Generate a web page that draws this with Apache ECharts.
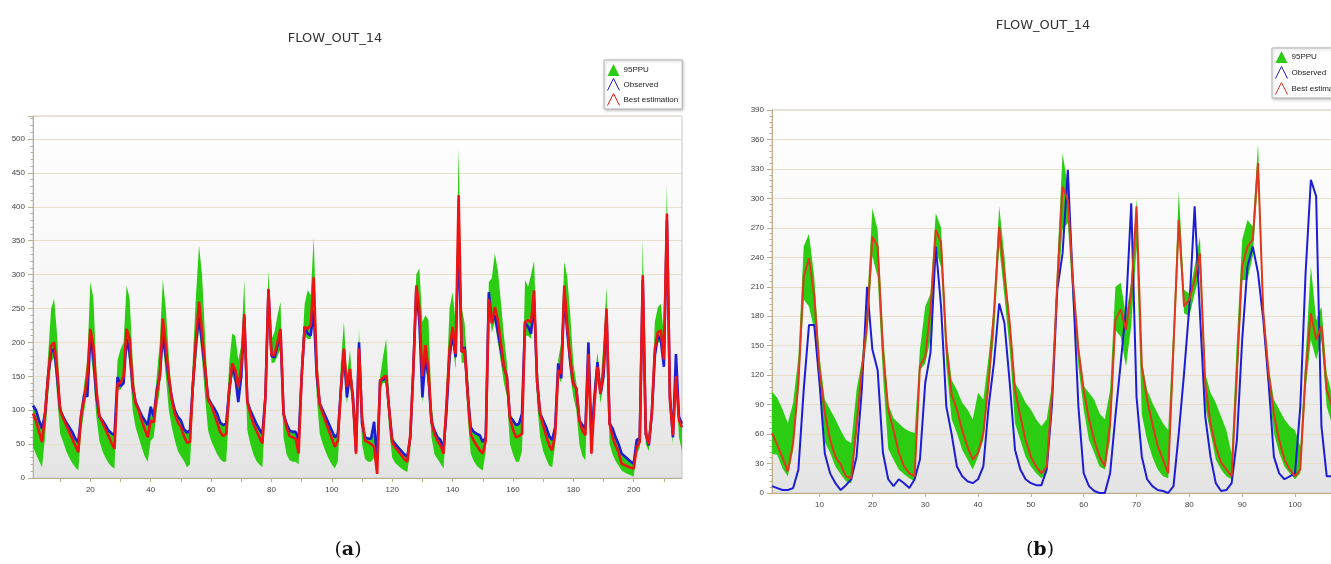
<!DOCTYPE html>
<html>
<head>
<meta charset="utf-8">
<script src="https://cdn.jsdelivr.net/npm/echarts@6/dist/echarts.min.js"></script>
<style>
  html, body { margin: 0; padding: 0; background: #ffffff; }
  #chart { width: 1331px; height: 564px; }
</style>
</head>
<body>
<div id="chart"></div>
<script>
// ---- Panel (a): FLOW_OUT_14, 216 time steps ----
const obsA = [
  107,100,85,73,95,150,185,191,150,100,
  90,82,75,68,58,53,95,124,120,208,
  180,120,90,85,78,70,66,63,149,135,
  140,205,185,135,112,102,92,85,78,105,
  90,130,150,210,180,145,118,100,90,85,
  72,67,70,140,200,237,200,160,118,110,
  103,95,82,78,80,130,164,150,112,150,
  237,112,100,90,80,72,65,120,277,180,
  178,195,213,95,80,70,68,68,56,150,
  223,213,210,247,150,110,100,90,80,70,
  60,65,130,188,119,155,120,40,200,80,
  60,58,58,83,26,144,145,149,100,56,
  50,45,40,35,31,60,160,282,230,119,
  178,150,83,70,60,56,43,100,180,213,
  178,360,186,193,124,75,68,65,63,53,
  60,274,230,240,215,190,164,149,90,85,
  78,80,95,230,223,213,260,142,95,85,
  75,62,56,75,169,147,272,215,170,139,
  132,85,78,73,200,60,120,171,124,150,
  242,80,73,60,50,36,32,28,24,21,
  56,58,292,65,48,95,180,210,203,164,
  380,120,60,183,90,80
];
const bestA = [
  95,85,68,53,95,150,195,200,160,100,
  88,78,68,58,48,38,95,118,150,220,
  195,130,92,82,72,62,52,43,139,140,
  150,220,205,140,110,100,85,72,60,85,
  82,125,150,235,195,150,115,95,82,75,
  62,52,53,140,205,260,215,165,115,108,
  95,82,68,62,65,130,169,160,134,164,
  242,112,95,80,70,60,51,120,279,181,
  182,200,220,95,75,62,60,58,36,150,
  223,220,225,296,160,108,95,82,70,58,
  46,55,130,191,134,161,115,36,191,90,
  55,53,50,46,6,144,148,151,100,53,
  45,40,34,28,24,65,160,284,250,150,
  196,160,83,65,55,48,36,110,190,223,
  183,417,186,190,124,65,55,48,41,36,
  55,264,228,252,233,200,164,149,88,72,
  60,62,65,230,233,230,277,142,95,78,
  62,48,41,65,159,154,284,223,175,139,
  132,85,70,63,183,36,110,164,124,160,
  250,80,60,48,38,21,19,17,15,14,
  45,53,299,65,50,95,190,215,218,175,
  390,115,63,150,85,75
];
const lowA = [
  46,35,25,16,60,120,170,178,120,65,
  53,40,30,22,16,11,70,100,130,190,
  150,90,55,40,30,22,17,14,130,130,
  140,195,170,100,75,60,45,32,24,55,
  60,100,130,200,150,100,75,55,40,32,
  25,16,20,110,170,220,175,120,70,55,
  45,35,28,24,24,100,150,140,110,150,
  200,70,50,35,25,20,16,100,250,170,
  170,180,190,60,35,26,24,24,20,130,
  210,205,205,240,120,65,50,38,28,20,
  14,25,110,160,110,140,90,30,170,50,
  28,24,24,30,5,130,140,140,70,30,
  22,18,14,11,9,40,150,260,220,110,
  170,130,60,35,28,21,14,80,160,200,
  160,340,170,170,90,36,25,18,14,11,
  40,250,215,230,200,170,140,120,50,35,
  24,24,40,210,210,205,250,110,60,40,
  28,18,16,50,150,140,260,200,150,120,
  100,50,32,26,170,30,100,150,110,140,
  230,50,35,25,18,11,8,6,4,2,
  35,45,280,50,40,80,175,200,200,160,
  370,100,50,140,60,40
];
const upA = [
  108,100,88,76,110,180,250,264,210,110,
  95,85,78,70,60,55,100,140,175,289,
  265,160,95,87,80,72,68,65,174,190,
  200,284,265,175,115,105,95,88,80,107,
  95,150,200,292,250,180,120,102,93,87,
  75,70,72,180,270,343,300,210,125,112,
  105,97,85,80,82,170,213,210,174,196,
  292,120,103,92,82,75,67,150,306,205,
  215,240,260,100,83,72,70,70,60,180,
  257,277,270,355,200,112,102,92,82,72,
  62,70,170,230,149,188,130,45,220,95,
  62,60,60,85,30,150,180,205,120,60,
  53,48,42,37,33,70,200,301,309,230,
  240,233,110,72,62,58,46,140,250,274,
  230,486,252,228,160,78,70,67,65,55,
  65,289,295,331,306,260,210,170,95,88,
  80,82,100,292,282,300,321,180,100,88,
  78,65,58,80,175,200,319,296,240,170,
  140,90,80,75,205,62,140,186,140,200,
  282,90,75,62,52,38,34,30,26,23,
  58,62,353,90,55,110,230,252,257,210,
  432,160,70,185,95,82
];

// ---- Panel (b): FLOW_OUT_14, 107 time steps ----
const obsB = [
  7,5,3,3,5,24,105,171,171,112,
  40,20,10,3,8,14,37,105,210,146,
  125,41,14,7,14,10,5,14,34,112,
  143,251,190,88,60,27,17,12,10,14,
  27,88,132,193,173,112,44,24,14,10,
  8,8,24,90,207,244,329,207,88,20,
  7,2,0,0,20,78,132,187,295,98,
  37,14,7,3,2,0,7,61,122,190,
  292,183,78,37,10,2,3,10,54,156,
  231,251,224,176,112,37,20,14,17,20,
  88,224,319,302,68,17,17
];
const bestB = [
  61,49,36,22,51,112,220,239,200,125,
  82,54,37,29,17,15,68,125,173,261,
  251,145,85,64,41,27,20,17,129,139,
  187,268,255,150,100,85,64,47,34,41,
  61,112,183,271,220,173,105,78,54,37,
  27,20,27,100,214,312,298,214,146,105,
  75,54,37,27,71,176,187,166,205,292,
  129,95,70,48,34,20,150,278,190,197,
  217,244,112,71,47,31,24,17,122,231,
  251,258,336,183,122,81,54,34,24,17,
  24,122,183,156,170,105,88
];
const lowB = [
  40,39,25,17,44,105,197,190,166,105,
  52,41,27,19,12,10,58,115,159,241,
  220,120,45,34,24,19,15,12,125,132,
  156,248,230,130,75,61,44,34,24,37,
  54,105,159,251,200,146,71,54,37,27,
  20,15,20,85,200,268,275,190,129,85,
  54,41,27,24,54,166,159,129,170,250,
  80,54,37,24,17,15,130,261,183,180,
  203,224,88,61,34,24,17,14,105,217,
  217,241,319,170,105,61,41,27,20,14,
  20,105,156,136,156,88,70
];
const upB = [
  103,97,85,71,92,139,251,264,220,139,
  95,85,75,64,54,51,105,135,193,290,
  268,165,90,76,71,66,63,61,146,190,
  203,285,270,160,115,105,92,85,75,102,
  95,139,190,292,241,176,112,103,92,85,
  75,68,75,110,234,346,312,220,153,109,
  102,95,81,75,105,210,214,180,215,300,
  135,105,92,81,71,64,170,307,207,203,
  231,261,122,102,92,78,64,40,156,258,
  278,271,356,193,129,95,85,75,68,64,
  47,139,231,176,190,122,100
];

// Axis ticks and labels
const yTicksA = [0, 50, 100, 150, 200, 250, 300, 350, 400, 450, 500];
const xLabelStepA = 20, xTickStepA = 10;
const yTicksB = [0, 30, 60, 90, 120, 150, 180, 210, 240, 270, 300, 330, 360, 390];
const xLabelStepB = 10, xTickStepB = 10;

const panelTitle = 'FLOW_OUT_14';
const legendNames = ['95PPU', 'Observed', 'Best estimation'];

// Colours
const GREEN = '#2bcc12';
const BLUE = '#1d1dd4';
const RED_A = '#ee1414';
const RED_B = '#e0381e';
const AXIS = '#bfae8c';
const SPLIT = '#e8dfcb';
const LABEL = '#444444';

// Time-step categories, 1..N
const stepsA = obsA.map((_, i) => String(i + 1));
const stepsB = obsB.map((_, i) => String(i + 1));

// Band thickness stacked on top of the lower bound
const widthOf = (lo, hi) => hi.map((v, i) => v - lo[i]);

const plotBg = {
  type: 'linear', x: 0, y: 0, x2: 0, y2: 1,
  colorStops: [
    { offset: 0, color: '#ffffff' },
    { offset: 0.55, color: '#f5f5f5' },
    { offset: 1, color: '#e3e3e3' }
  ]
};

function xAxisFor(gridIndex, steps, labelStep, tickStep) {
  return {
    type: 'category', gridIndex, data: steps, boundaryGap: false,
    axisLine: { show: true, lineStyle: { color: AXIS, width: 1 } },
    axisTick: { show: true, length: 4, lineStyle: { color: AXIS },
      interval: (idx, val) => Number(val) % tickStep === 0 },
    axisLabel: { color: LABEL, fontSize: 8, fontFamily: 'Liberation Sans', margin: 8,
      interval: (idx, val) => Number(val) % labelStep === 0 },
    splitLine: { show: false }
  };
}

function yAxisFor(gridIndex, max, step, lastLabel) {
  return {
    type: 'value', gridIndex, min: 0, max, interval: step,
    axisLine: { show: true, onZero: false, lineStyle: { color: AXIS, width: 1 } },
    axisTick: { show: true, length: 5, lineStyle: { color: AXIS } },
    minorTick: { show: true, splitNumber: 5, length: 2.5, lineStyle: { color: AXIS } },
    axisLabel: { color: LABEL, fontSize: 8, fontFamily: 'Liberation Sans', margin: 8,
      formatter: v => (v > lastLabel ? '' : String(v)) },
    splitLine: { show: true, lineStyle: { color: SPLIT, width: 1 } }
  };
}

function panelSeries(idx, steps, obs, best, low, up, red, lw) {
  const stackId = 'ppu' + idx;
  return [
    { name: '95PPU lower bound', type: 'line', xAxisIndex: idx, yAxisIndex: idx,
      stack: stackId, data: low, symbol: 'none', silent: true,
      lineStyle: { width: 0, opacity: 0 }, z: 1 },
    { name: '95PPU', type: 'line', xAxisIndex: idx, yAxisIndex: idx,
      stack: stackId, data: widthOf(low, up), symbol: 'none',
      lineStyle: { width: 0, opacity: 0 }, itemStyle: { color: GREEN },
      areaStyle: { color: GREEN, opacity: 1 }, z: 2 },
    { name: 'Observed', type: 'line', xAxisIndex: idx, yAxisIndex: idx,
      data: obs, symbol: 'none', itemStyle: { color: BLUE },
      lineStyle: { color: BLUE, width: lw }, z: 3 },
    { name: 'Best estimation', type: 'line', xAxisIndex: idx, yAxisIndex: idx,
      data: best, symbol: 'none', itemStyle: { color: red },
      lineStyle: { color: red, width: lw }, z: 4 }
  ];
}

const chevron = 'path://M0,10L5,0L10,10';
function legendFor(left, top, padding, gap, red) {
  return {
    orient: 'vertical', left, top, padding, itemGap: gap,
    itemWidth: 12, itemHeight: 12, align: 'left',
    backgroundColor: '#ffffff', borderColor: '#b4b4b4', borderWidth: 1,
    shadowColor: 'rgba(0,0,0,0.25)', shadowBlur: 3, shadowOffsetX: 1, shadowOffsetY: 1,
    selectedMode: false,
    textStyle: { color: '#1a1a1a', fontSize: 8, fontFamily: 'Liberation Sans', padding: [0, 0, 0, -1] },
    data: [
      { name: legendNames[0], icon: 'triangle', itemStyle: { color: GREEN, borderWidth: 0 } },
      { name: legendNames[1], icon: chevron,
        itemStyle: { color: 'transparent', borderColor: BLUE, borderWidth: 1 } },
      { name: legendNames[2], icon: chevron,
        itemStyle: { color: 'transparent', borderColor: red, borderWidth: 1 } }
    ]
  };
}

const chart = echarts.init(document.getElementById('chart'), null, { renderer: 'canvas' });

chart.setOption({
  animation: false,
  backgroundColor: '#ffffff',
  grid: [
    { left: 33, top: 116, width: 649, height: 362, show: true,
      backgroundColor: plotBg, borderColor: '#c6c6c6', borderWidth: 1,
      outerBoundsMode: 'none', containLabel: false },
    { left: 772, top: 110, width: 560, height: 383, show: true,
      backgroundColor: plotBg, borderColor: '#c6c6c6', borderWidth: 1,
      outerBoundsMode: 'none', containLabel: false }
  ],
  xAxis: [
    xAxisFor(0, stepsA, xLabelStepA, xTickStepA),
    xAxisFor(1, stepsB, xLabelStepB, xTickStepB)
  ],
  yAxis: [
    yAxisFor(0, 534, yTicksA[1] - yTicksA[0], yTicksA[yTicksA.length - 1]),
    yAxisFor(1, 390, yTicksB[1] - yTicksB[0], yTicksB[yTicksB.length - 1])
  ],
  legend: [
    legendFor(604, 60, [4, 4, 3, 3], 2, RED_A),
    legendFor(1272, 48, [3, 4, 3, 3], 3, RED_B)
  ],
  series: [
    ...panelSeries(0, stepsA, obsA, bestA, lowA, upA, RED_A, 2.6),
    ...panelSeries(1, stepsB, obsB, bestB, lowB, upB, RED_B, 2)
  ],
  graphic: [
    { type: 'text', left: 'auto', x: 335, y: 39, silent: true,
      style: { text: panelTitle, fill: '#333333', font: '13px "DejaVu Sans"',
        align: 'center', verticalAlign: 'middle' } },
    { type: 'text', x: 1043, y: 26, silent: true,
      style: { text: panelTitle, fill: '#333333', font: '13px "DejaVu Sans"',
        align: 'center', verticalAlign: 'middle' } },
    { type: 'text', x: 348, y: 550, silent: true,
      style: { text: '({b|a})', fill: '#111111', font: '19px "DejaVu Serif"',
        align: 'center', verticalAlign: 'middle',
        rich: { b: { fontWeight: 'bold', fontSize: 19, fontFamily: 'DejaVu Serif', fill: '#111111' } } } },
    { type: 'text', x: 1040, y: 550, silent: true,
      style: { text: '({b|b})', fill: '#111111', font: '19px "DejaVu Serif"',
        align: 'center', verticalAlign: 'middle',
        rich: { b: { fontWeight: 'bold', fontSize: 19, fontFamily: 'DejaVu Serif', fill: '#111111' } } } }
  ]
});
</script>
</body>
</html>
